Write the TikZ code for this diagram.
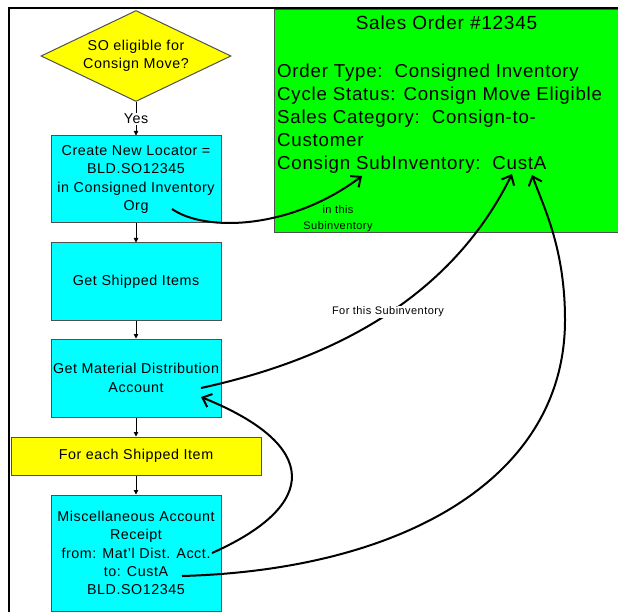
\documentclass[tikz,border=0pt]{standalone}
\usepackage{fontspec}
\setmainfont{Liberation Sans}[LetterSpace=4]
\usetikzlibrary{shapes.geometric,arrows.meta}
\definecolor{cyanbox}{HTML}{00FFFF}
\definecolor{yellowbox}{HTML}{FFFF00}
\definecolor{greenbox}{HTML}{00FF00}
\definecolor{edgegray}{HTML}{505050}
\begin{document}
\begin{tikzpicture}[x=1pt,y=-1pt,
  flowfont/.style={font=\fontsize{14.3}{18.3}\selectfont},
  flowbox/.style={draw=edgegray, line width=1pt, fill=cyanbox, minimum width=170pt,
    inner sep=0pt, align=center, flowfont},
  loopbox/.style={draw=edgegray, line width=1pt, fill=yellowbox, minimum width=250pt,
    minimum height=38pt, inner sep=0pt, align=center, flowfont},
  decision/.style={diamond, draw=edgegray, line width=1pt, fill=yellowbox,
    minimum width=190pt, minimum height=91pt, inner sep=0pt},
  flowarrow/.style={draw=black, line width=0.8pt, -{Triangle[length=4.5pt,width=4.5pt]}},
  yeslabel/.style={fill=white, inner sep=1pt, flowfont},
  bigarrow/.style={draw=black, line width=2pt, -{Straight Barb[length=8pt,width=14pt,line width=2pt]}},
  orderline/.style={anchor=base west, inner sep=0pt, font=\fontsize{18.7}{23}\selectfont},
  smalllabel/.style={inner sep=1pt, align=center, font=\fontsize{11}{16}\selectfont},
]
\useasboundingbox (0,0) rectangle (618,612);
\fill[white] (0,0) rectangle (618,612);
% outer frame
\draw[line width=2pt] (9,612) -- (9,8) -- (618,8);

% sales order panel (runs past the right edge, so no right border)
\node[fill=greenbox, anchor=north west, inner sep=0pt,
  minimum width=344pt, minimum height=222pt] (so) at (274,10) {};
\draw[edgegray, line width=1pt] (so.north east) -- (so.north west) -- (so.south west) -- (so.south east);
\node[anchor=base, inner sep=0pt, font=\fontsize{19}{23}\selectfont] (sotitle) at (446.5,30) {Sales Order \#12345};
\node[orderline] (g1) at (277,78) {Order Type:\ \ Consigned Inventory};
\node[orderline] (g2) at (277,101) {Cycle Status: Consign Move Eligible};
\node[orderline] (g3) at (277,124) {Sales Category:\ \ Consign-to-};
\node[orderline] (g4) at (277,147) {Customer};
\node[orderline] (g5) at (277,170) {Consign SubInventory:\ \ CustA};
\node[smalllabel] (inthis) at (338,218.5) {in this\\Subinventory};

% flowchart
\node[decision] (dec) at (136,56) {};
\node[align=center, inner sep=0pt, flowfont] (dectext) at (dec.center) {SO eligible for\\Consign Move?};
\node[flowbox, minimum height=87pt] (b1) at (136,179.5) {Create New Locator =\\BLD.SO12345\\in Consigned Inventory\\Org};
\node[flowbox, minimum height=77pt] (b2) at (136,281.5) {Get Shipped Items};
\node[flowbox, minimum height=78pt] (b3) at (136,378) {Get Material Distribution\\Account};
\node[loopbox] (loop) at (136,456) {For each Shipped Item};
\node[flowbox, minimum height=116pt] (b5) at (136,553) {Miscellaneous Account\\Receipt\\from: Mat'l Dist. Acct.\\to: CustA\\BLD.SO12345};

\draw[flowarrow] (dec.south) -- node[yeslabel] (yes) {Yes} (b1.north);
\draw[flowarrow] (b1.south) -- (b2.north);
\draw[flowarrow] (b2.south) -- (b3.north);
\draw[flowarrow] (b3.south) -- (loop.north);
\draw[flowarrow] (loop.south) -- (b5.north);

% curved connectors
\coordinate (c1s) at (172,209);
\coordinate (c1e) at (362,176);
\coordinate (c2s) at (201,388);
\coordinate (c2e) at (512,174);
\coordinate (c3s) at (212,553);
\coordinate (c3e) at (201,397);
\coordinate (c4s) at (182,576);
\coordinate (c4m) at (565,320);
\coordinate (c4e) at (532,175);

\draw[bigarrow] (c1s) .. controls (205,232) and (290,230) .. (c1e);
\draw[bigarrow] (c2s) .. controls (330,360) and (450,300) .. (c2e);
\node[fill=white, inner sep=1pt, font=\fontsize{11}{14}\selectfont] (forthis) at (388,312) {For this Subinventory};
\draw[bigarrow] (c3s) .. controls (320,505) and (320,445) .. (c3e);
\draw[bigarrow] (c4s) .. controls (400,570) and (565,480) .. (c4m)
  .. controls (565,250) and (545,210) .. (c4e);
\end{tikzpicture}
\end{document}
